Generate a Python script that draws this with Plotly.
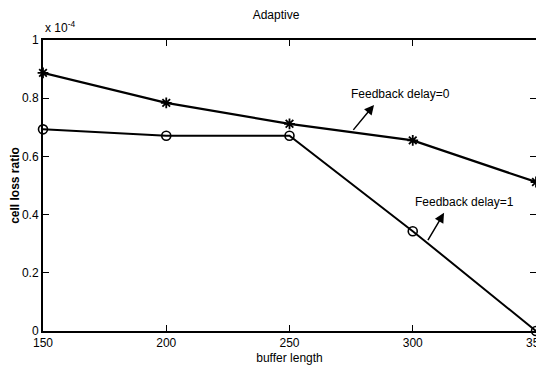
import plotly.graph_objects as go

buffer_length = [150, 200, 250, 300, 350]
delay0 = [0.887, 0.784, 0.712, 0.655, 0.512]
delay1 = [0.693, 0.671, 0.671, 0.343, 0.0]
x_ticks = [150, 200, 250, 300, 350]
y_ticks = [0, 0.2, 0.4, 0.6, 0.8, 1]
y_tick_text = ["0", "0.2", "0.4", "0.6", "0.8", "1"]

FONT = "Liberation Sans Narrow, Arial Narrow, Liberation Sans, Arial, sans-serif"

fig = go.Figure()
fig.add_trace(go.Scatter(
    x=buffer_length, y=delay0, mode="lines+markers",
    line=dict(color="black", width=2.2),
    marker=dict(symbol="asterisk-open", size=9, color="black", line=dict(color="black", width=1.8)),
    showlegend=False, cliponaxis=False))
fig.add_trace(go.Scatter(
    x=buffer_length, y=delay1, mode="lines+markers",
    line=dict(color="black", width=2),
    marker=dict(symbol="circle-open", size=9, color="black", line=dict(color="black", width=1.6)),
    showlegend=False, cliponaxis=False))

fig.add_annotation(x=284.3, y=0.777, ax=275.4, ay=0.686, xref="x", yref="y", axref="x", ayref="y",
                   text="", showarrow=True, arrowhead=2, arrowsize=1.3, arrowwidth=1.5, arrowcolor="black")
fig.add_annotation(x=312.7, y=0.406, ax=305.8, ay=0.307, xref="x", yref="y", axref="x", ayref="y",
                   text="", showarrow=True, arrowhead=2, arrowsize=1.3, arrowwidth=1.5, arrowcolor="black")
fig.add_annotation(x=295.2, y=0.816, xref="x", yref="y", text="Feedback delay=0", showarrow=False,
                   font=dict(family=FONT, size=12, color="black"))
fig.add_annotation(x=320.8, y=0.442, xref="x", yref="y", text="Feedback delay=1", showarrow=False,
                   font=dict(family=FONT, size=12, color="black"))
fig.add_annotation(x=0, y=1, xref="paper", yref="paper", xanchor="left", yanchor="bottom", yshift=3,
                   text="x 10<sup>-4</sup>", showarrow=False, font=dict(family=FONT, size=12, color="black"))

# The page body adds an 8px offset; the figure is sized so the whole image fits the window.
fig.update_layout(
    width=536, height=368,
    margin=dict(l=35, r=8, t=32, b=45),
    paper_bgcolor="white", plot_bgcolor="white",
    font=dict(family=FONT, size=12, color="black"),
    title=dict(text="Adaptive", x=0.5, xanchor="center", y=0.981, yanchor="middle",
               font=dict(family=FONT, size=12, color="black")),
    xaxis=dict(range=[150, 350], tickvals=x_ticks, ticks="inside", ticklen=6, tickcolor="black",
               showline=True, linecolor="black", linewidth=2, mirror="ticks", showgrid=False, zeroline=False,
               automargin=False, ticklabeloverflow="allow",
               title=dict(text="buffer length", standoff=4, font=dict(family=FONT, size=12)),
               tickfont=dict(family=FONT, size=12)),
    yaxis=dict(range=[0, 1], tickvals=y_ticks, ticktext=y_tick_text, ticks="inside", ticklen=6, tickcolor="black",
               showline=True, linecolor="black", linewidth=2, mirror="ticks", showgrid=False, zeroline=False,
               automargin=False,
               title=dict(text="<b>cell loss ratio</b>", standoff=4, font=dict(family="Liberation Sans, Arial, sans-serif", size=12)),
               tickfont=dict(family=FONT, size=12)),
)

fig.write_html("out.html")
